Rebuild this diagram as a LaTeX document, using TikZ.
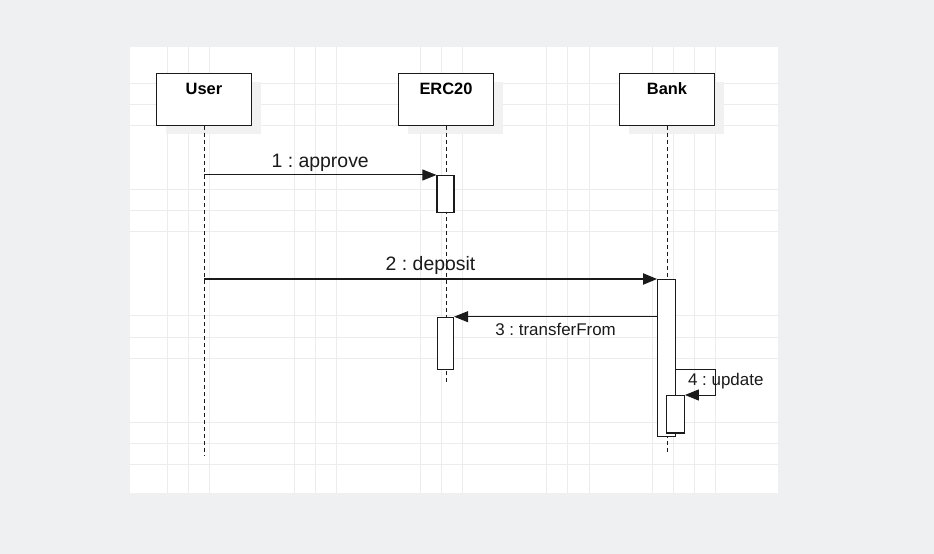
\documentclass[tikz,border=0pt]{standalone}
\usepackage{fontspec}
\setmainfont{Liberation Sans}
\usetikzlibrary{arrows.meta,shadows}
\frenchspacing
\definecolor{bgcol}{HTML}{EFF0F2}
\definecolor{gridcol}{HTML}{ECECEC}
\definecolor{shadowcol}{HTML}{F1F1F1}
\definecolor{inkcol}{HTML}{1A1A1A}
\tikzset{
  head/.style={draw=inkcol, fill=white, line width=1.2bp, minimum width=95bp,
    inner xsep=0pt, inner ysep=0pt, text height=21.7bp, text depth=30.3bp,
    font=\bfseries\fontsize{16.5}{19}\selectfont,
    drop shadow={shadow xshift=9bp, shadow yshift=-9bp, fill=shadowcol, opacity=1}},
  lifeline/.style={draw=inkcol, dash pattern=on 4bp off 3bp, line width=1bp},
  act/.style={draw=inkcol, fill=white, line width=1.2bp, inner sep=0pt,
    minimum width=17bp, anchor=north},
  msg/.style={draw=inkcol, -{Triangle[length=14bp,width=11bp]}, line width=1bp},
  biglbl/.style={text=inkcol, font=\fontsize{19.5}{22}\selectfont, inner sep=3bp},
  smalllbl/.style={text=inkcol, font=\fontsize{17}{20}\selectfont, inner sep=2bp},
}
\begin{document}
\begin{tikzpicture}[x=1bp, y=-1bp]
  \useasboundingbox (0,0) rectangle (934,554);
  \fill[bgcol] (0,0) rectangle (934,554);
  \fill[white] (130,46.7) rectangle (778,492.7);
  % grid
  \foreach \gx in {167.7,188.5,209.3,294,315,336,420.7,441.7,462.7,546.7,567.7,589,652.7,673.3,694.3,715.3}
    \draw[gridcol, line width=1bp] (\gx,46.7) -- (\gx,492.7);
  \foreach \gy in {84,105,126,190,211,232,316,337,358,422.7,443.7,464}
    \draw[gridcol, line width=1bp] (130,\gy) -- (778,\gy);

  % heads
  \node[head] (user) at (204,99.2) {User};
  \node[head] (erc) at (446,99.2) {ERC20};
  \node[head] (bank) at (667,99.2) {Bank};

  % lifelines
  \coordinate (userend) at (204,455);
  \coordinate (ercend) at (446,383);
  \coordinate (bankend) at (667,454);
  \draw[lifeline] (user.south) -- (userend);
  \draw[lifeline] (erc.south) -- (ercend);
  \draw[lifeline] (bank.south) -- (bankend);

  % activations
  \node[act, minimum height=37.3bp] (erc1) at (445.5,175) {};
  \node[act, minimum height=52.3bp, minimum width=16bp] (erc2) at (445.5,316.7) {};
  \node[act, minimum height=156.7bp, minimum width=18bp] (bank1) at (666.7,279) {};
  \node[act, minimum height=37.3bp, minimum width=17.6bp] (bank2) at (675.5,395) {};

  % messages
  \draw[msg] (user |- erc1.north) -- node[biglbl, above] (approvelbl) {1 : approve} (erc1.north west);
  \draw[msg, line width=2bp] (user |- bank1.north) -- node[biglbl, above] (depositlbl) {2 : deposit} (bank1.north west);
  \draw[msg] (bank1.west |- erc2.north) -- node[smalllbl, below=4bp] (transferlbl) {3 : transferFrom} (erc2.north east);
  \coordinate (loop) at (715,369);
  \draw[msg] (bank1.east |- loop) -- (loop) |- (bank2.north east);
  \node[smalllbl, anchor=base] (updatelbl) at (725.8,385) {4 : update};
\end{tikzpicture}
\end{document}
